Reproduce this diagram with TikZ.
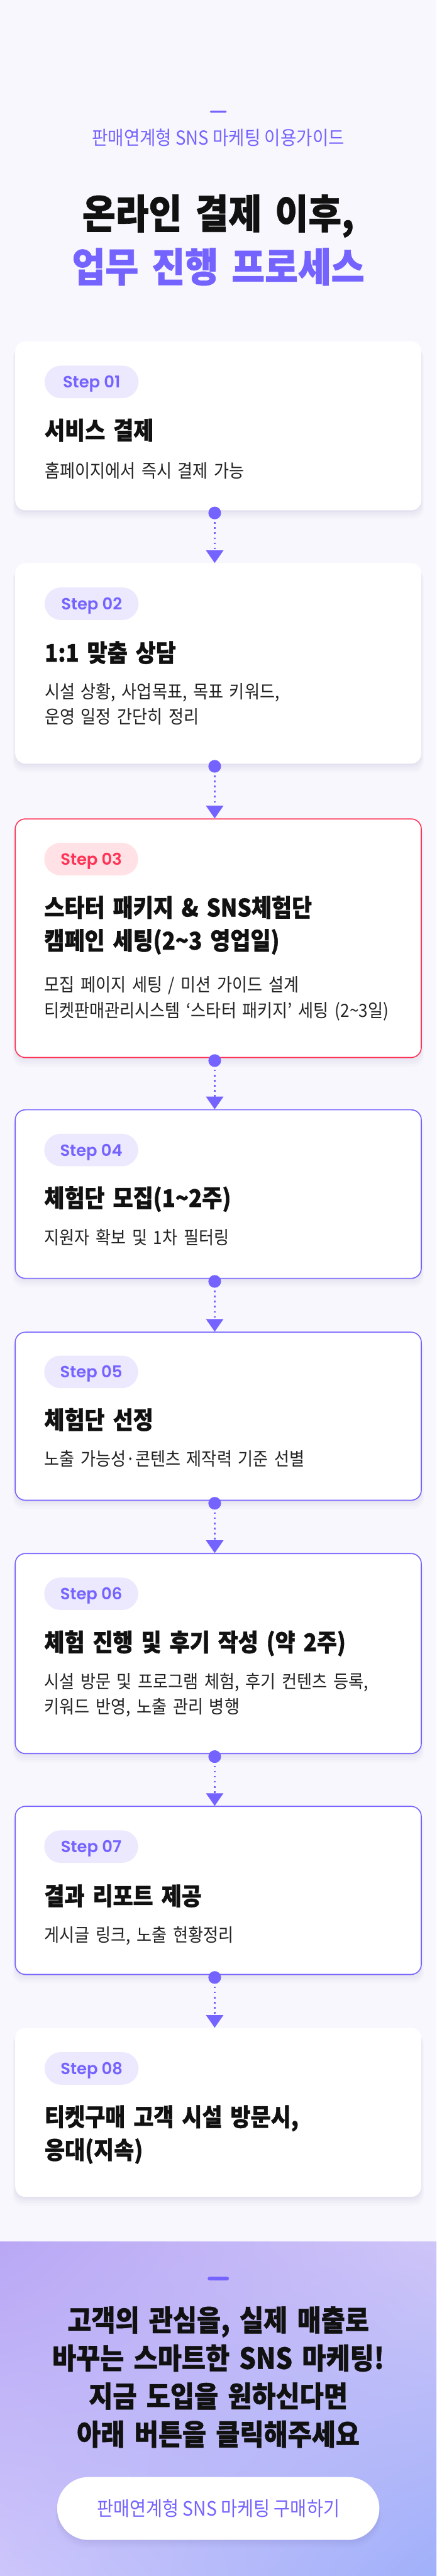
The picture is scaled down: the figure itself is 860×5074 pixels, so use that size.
\documentclass[tikz,border=0pt]{standalone}
\usepackage{fontspec}
\setmainfont{Noto Sans CJK KR}[FakeStretch=0.9, BoldFeatures={FakeBold=1}]
\newfontfamily\stepfont{Poppins}[UprightFont=* SemiBold]
\usetikzlibrary{positioning, arrows.meta, calc, shadows, shadings}

\definecolor{bgc}{HTML}{F8F7FD}
\definecolor{purp}{HTML}{7463FF}
\definecolor{redc}{HTML}{FF3355}
\definecolor{badgec}{HTML}{ECE8FD}
\definecolor{pinkc}{HTML}{FFE1E6}
\definecolor{inkc}{HTML}{111111}
\definecolor{descc}{HTML}{222222}
\definecolor{shadowc}{HTML}{4B3F8A}
\definecolor{gradul}{HTML}{B9A7F5}
\definecolor{gradur}{HTML}{CEC5F8}
\definecolor{gradll}{HTML}{CDC6FB}
\definecolor{gradlr}{HTML}{A0B0FA}

\begin{document}
\begin{tikzpicture}[
  x=1pt, y=-1pt,
  soft shadow/.style={
    general shadow={fill=shadowc, opacity=0.035, shadow yshift=-3pt},
    general shadow={fill=shadowc, opacity=0.03, shadow yshift=-7pt, shadow scale=1.004},
    general shadow={fill=shadowc, opacity=0.025, shadow yshift=-11pt, shadow scale=1.008},
    general shadow={fill=shadowc, opacity=0.02, shadow yshift=-15pt, shadow scale=1.012}},
  card/.style={fill=white, rounded corners=20pt, minimum width=800pt, inner sep=0pt,
    anchor=north, soft shadow},
  cardv/.style={card, draw=purp, line width=2pt},
  cardr/.style={card, draw=redc, line width=2pt},
  badge/.style={fill=badgec, text=purp, rounded corners=32pt, minimum width=185pt,
    minimum height=64pt, inner sep=0pt, text depth=0pt, anchor=north west,
    font=\stepfont\fontsize{32}{32}\selectfont},
  badger/.style={badge, fill=pinkc, text=redc},
  ttl/.style={anchor=base west, inner sep=0pt, text width=740pt, align=left, text=inkc,
    font=\fontsize{48}{65}\selectfont\bfseries},
  desc/.style={anchor=base west, inner sep=0pt, text width=740pt, align=left, text=descc,
    font=\fontsize{36}{50}\selectfont},
  dot/.style={circle, fill=purp, minimum size=25pt, inner sep=0pt},
  flow/.style={draw=purp, line width=3pt, dash pattern=on 3pt off 7pt, dash phase=4.5pt,
    -{Triangle[width=34pt, length=25pt]}},
  bar/.style={fill=purp, minimum width=33pt, minimum height=4pt, inner sep=0pt, rounded corners=2pt}
]
\useasboundingbox (0,0) rectangle (860,5074);

% --- page background and closing gradient band ---
\fill[bgc] (0,0) rectangle (860,4415);
\shade[upper left=gradul, upper right=gradur, lower left=gradll, lower right=gradlr]
  (0,4415) rectangle (860,5074);

% --- header ---
\node[bar] (topbar) at (430,220) {};
\node[anchor=base, inner sep=0pt, text=purp, font=\fontsize{38}{38}\selectfont] (guide) at (430,285)
  {판매연계형 SNS 마케팅 이용가이드};
\node[anchor=base, inner sep=0pt, text width=820pt, align=center, text=inkc,
  font=\fontsize{79}{105}\selectfont\bfseries] (head) at (430,450)
  {온라인 결제 이후,\\\textcolor{purp}{업무 진행 프로세스}};

% --- step cards ---
\node[card, minimum height=333pt] (c1) at (430,672) {};
\node[badge] (b1) at ($(c1.north west)+(58,48)$) {Step 01};
\node[ttl] (t1) at ($(b1.south west)+(0,81)$) {서비스 결제};
\node[desc] (d1) at ($(t1.base west)+(0,75)$) {홈페이지에서 즉시 결제 가능};

\node[card, minimum height=395pt] (c2) at (430,1109) {};
\node[badge] (b2) at ($(c2.north west)+(58,48)$) {Step 02};
\node[ttl] (t2) at ($(b2.south west)+(0,82)$) {1:1 맞춤 상담};
\node[desc] (d2) at ($(t2.base west)+(0,72)$) {시설 상황, 사업목표, 목표 키워드,\\운영 일정 간단히 정리};

\node[cardr, minimum height=470pt] (c3) at (430,1612) {};
\node[badger] (b3) at ($(c3.north west)+(58,48)$) {Step 03};
\node[ttl] (t3) at ($(b3.south west)+(0,81)$) {스타터 패키지 \& SNS체험단\\캠페인 세팅(2\textasciitilde 3 영업일)};
\node[desc] (d3) at ($(t3.base west)+(0,148)$)
  {모집 페이지 세팅 / 미션 가이드 설계\\티켓판매관리시스템 ‘스타터 패키지’ 세팅 (2\textasciitilde 3일)};

\node[cardv, minimum height=332pt] (c4) at (430,2185) {};
\node[badge] (b4) at ($(c4.north west)+(58,48)$) {Step 04};
\node[ttl] (t4) at ($(b4.south west)+(0,80)$) {체험단 모집(1\textasciitilde 2주)};
\node[desc] (d4) at ($(t4.base west)+(0,74)$) {지원자 확보 및 1차 필터링};

\node[cardv, minimum height=331pt] (c5) at (430,2623) {};
\node[badge] (b5) at ($(c5.north west)+(58,47)$) {Step 05};
\node[ttl] (t5) at ($(b5.south west)+(0,80)$) {체험단 선정};
\node[desc] (d5) at ($(t5.base west)+(0,73)$) {노출 가능성·콘텐츠 제작력 기준 선별};

\node[cardv, minimum height=394pt] (c6) at (430,3059) {};
\node[badge] (b6) at ($(c6.north west)+(58,48)$) {Step 06};
\node[ttl] (t6) at ($(b6.south west)+(0,81)$) {체험 진행 및 후기 작성 (약 2주)};
\node[desc] (d6) at ($(t6.base west)+(0,73)$) {시설 방문 및 프로그램 체험, 후기 컨텐츠 등록,\\키워드 반영, 노출 관리 병행};

\node[cardv, minimum height=331pt] (c7) at (430,3557) {};
\node[badge] (b7) at ($(c7.north west)+(58,48)$) {Step 07};
\node[ttl] (t7) at ($(b7.south west)+(0,83)$) {결과 리포트 제공};
\node[desc] (d7) at ($(t7.base west)+(0,72)$) {게시글 링크, 노출 현황정리};

\node[card, minimum height=333pt] (c8) at (430,3994) {};
\node[badge] (b8) at ($(c8.north west)+(58,48)$) {Step 08};
\node[ttl] (t8) at ($(b8.south west)+(0,81)$) {티켓구매 고객 시설 방문시,\\응대(지속)};

% --- dotted connectors between steps ---
\node[dot] (k1) at ($(c1.south)+(-7,5)$) {};
\draw[flow] (k1.south) -- (k1 |- c2.north);
\node[dot] (k2) at ($(c2.south)+(-7,5)$) {};
\draw[flow] (k2.south) -- (k2 |- c3.north);
\node[dot] (k3) at ($(c3.south)+(-7,5)$) {};
\draw[flow] (k3.south) -- (k3 |- c4.north);
\node[dot] (k4) at ($(c4.south)+(-7,5)$) {};
\draw[flow] (k4.south) -- (k4 |- c5.north);
\node[dot] (k5) at ($(c5.south)+(-7,5)$) {};
\draw[flow] (k5.south) -- (k5 |- c6.north);
\node[dot] (k6) at ($(c6.south)+(-7,5)$) {};
\draw[flow] (k6.south) -- (k6 |- c7.north);
\node[dot] (k7) at ($(c7.south)+(-7,5)$) {};
\draw[flow] (k7.south) -- (k7 |- c8.north);

% --- call to action ---
\node[bar, minimum width=42pt, minimum height=7pt, rounded corners=3.5pt] (endbar) at (430,4488) {};
\node[anchor=base, inner sep=0pt, text width=820pt, align=center, text=inkc,
  font=\fontsize{57}{75}\selectfont\bfseries] (cta) at (430,4591)
  {고객의 관심을, 실제 매출로\\바꾸는 스마트한 SNS 마케팅!\\지금 도입을 원하신다면\\아래 버튼을 클릭해주세요};
\node[fill=white, rounded corners=62pt, minimum width=635pt, minimum height=124pt, inner sep=0pt,
  soft shadow, text=purp, font=\fontsize{39}{39}\selectfont] (buy) at (430,4941)
  {판매연계형 SNS 마케팅 구매하기};

\end{tikzpicture}
\end{document}
